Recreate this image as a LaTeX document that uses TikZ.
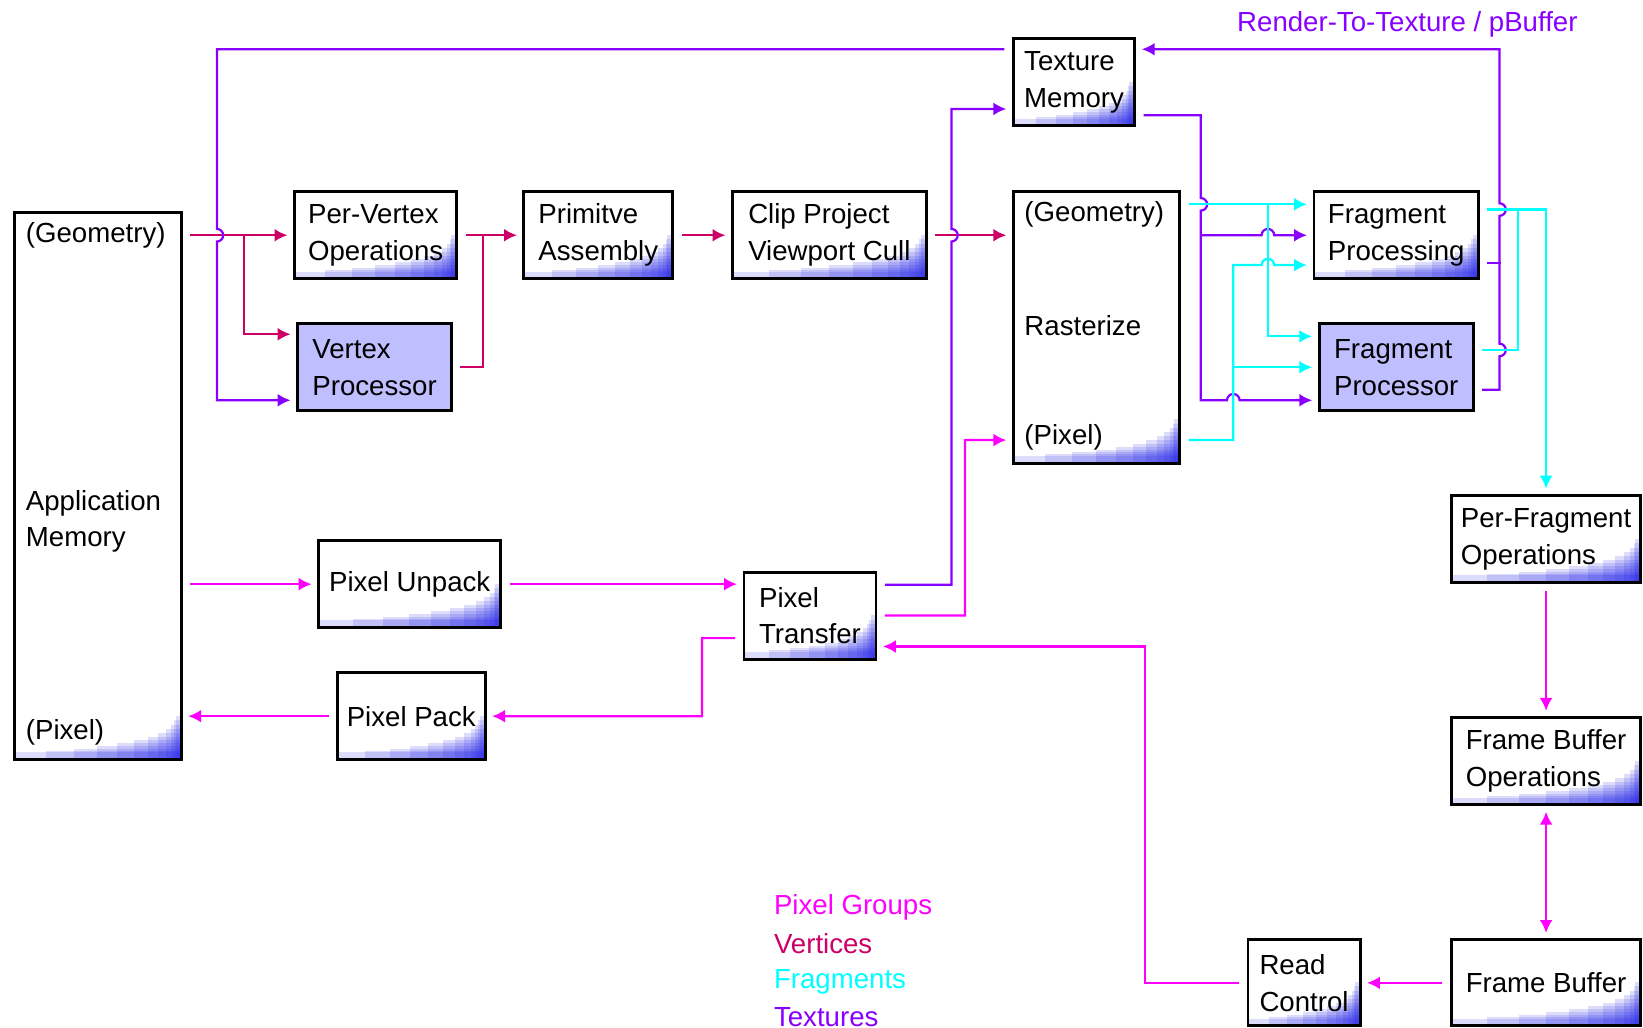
\documentclass[tikz,border=0pt]{standalone}
\usepackage{fontspec}
\setmainfont{Liberation Sans}
\usetikzlibrary{arrows.meta, calc}
\definecolor{pixmag}{RGB}{255,0,255}
\definecolor{vtxred}{RGB}{204,0,102}
\definecolor{fragcyan}{RGB}{0,255,255}
\definecolor{texviolet}{RGB}{136,0,255}
\definecolor{proclav}{RGB}{191,191,255}
\definecolor{glowblue}{RGB}{30,30,230}
\newcommand{\boxfont}{\fontsize{7.5}{10}\selectfont}

\begin{document}
\begin{tikzpicture}[
    plain/.style={draw, line width=0.8pt, minimum height=0.83cm, align=left, font=\boxfont, inner sep=0pt},
    box/.style={plain, path picture={
        \foreach \k in {1,...,12}
          \fill[glowblue, opacity=0.15]
            let \p1=($(path picture bounding box.east)-(path picture bounding box.west)$) in
            (path picture bounding box.south east) rectangle
            ++({-(0.05cm+(\x1-0.05cm)*(\k/12)*(\k/12)*sqrt(\k/12))},
              {0.06cm+0.36cm*((13-\k)/12)*sqrt((13-\k)/12)});}},
    proc/.style={plain, fill=proclav},
    lbl/.style={font=\boxfont, anchor=west, align=left, inner sep=0pt},
    link/.style={line width=0.6pt, shorten <=2pt, shorten >=1.5pt, -{Latex[length=3.5pt,width=3.5pt]}},
    bare/.style={line width=0.6pt, shorten <=2pt}
  ]
  \useasboundingbox (0,0) rectangle (15.68,9.81);

  % Boxes
  \node[box, minimum width=1.59cm, minimum height=5.22cm] (appmem) at (0.935,5.17) {};
  \node[box, minimum width=1.55cm] (pervertex) at (3.585,7.565) {Per-Vertex\\Operations};
  \node[proc, minimum width=1.47cm] (vertexproc) at (3.575,6.305) {Vertex\\Processor};
  \node[box, minimum width=1.42cm] (primasm) at (5.71,7.565) {Primitve\\Assembly};
  \node[box, minimum width=1.85cm] (clip) at (7.915,7.565) {Clip Project\\Viewport Cull};
  \node[box, minimum width=1.16cm] (texmem) at (10.25,9.025) {Texture\\Memory};
  \node[box, minimum width=1.59cm, minimum height=2.59cm] (raster) at (10.465,6.685) {};
  \node[box, minimum width=1.57cm] (fragproc) at (13.325,7.565) {Fragment\\Processing};
  \node[proc, minimum width=1.47cm] (fragshader) at (13.325,6.305) {Fragment\\Processor};
  \node[box, minimum width=1.81cm] (perfrag) at (14.755,4.665) {Per-Fragment\\Operations};
  \node[box, minimum width=1.81cm] (fbops) at (14.755,2.545) {Frame Buffer\\Operations};
  \node[box, minimum width=1.81cm, minimum height=0.82cm] (fb) at (14.755,0.43) {Frame Buffer};
  \node[box, minimum width=1.07cm, minimum height=0.82cm] (readctl) at (12.445,0.43) {Read\\Control};
  \node[box, minimum width=1.74cm] (unpack) at (3.91,4.235) {Pixel Unpack};
  \node[box, minimum width=1.41cm] (pack) at (3.925,2.975) {Pixel Pack};
  \node[box, minimum width=1.26cm] (transfer) at (7.73,3.935) {Pixel\\Transfer};

  % Texts inside the tall boxes
  \node[lbl] (appgeo) at (0.24,7.56) {(Geometry)};
  \node[lbl] (appname) at (0.24,4.835) {Application\\Memory};
  \node[lbl] (apppix) at (0.24,2.82) {(Pixel)};
  \node[lbl] (rastgeo) at (9.77,7.76) {(Geometry)};
  \node[lbl] (rastname) at (9.77,6.70) {Rasterize};
  \node[lbl] (rastpix) at (9.77,5.64) {(Pixel)};

  % Vertices
  \coordinate (vsplit) at (2.33,7.565);
  \coordinate (vjoin) at (4.61,7.565);
  \draw[link, vtxred] (appmem.east |- pervertex.west) -- (pervertex.west);
  \draw[link, vtxred, shorten <=0pt] (vsplit) |- ([yshift=3.15mm]vertexproc.west);
  \draw[link, vtxred] (pervertex.east) -- (primasm.west);
  \draw[bare, vtxred] (vertexproc.east) -| (vjoin);
  \draw[link, vtxred] (primasm.east) -- (clip.west);
  \draw[link, vtxred] (clip.east) -- (clip.east -| raster.west);

  % Textures
  \draw[link, texviolet] ([yshift=3.15mm]texmem.west) -| (2.07,7.625)
    arc[start angle=90, end angle=-90, radius=0.06] |- ([yshift=-3.15mm]vertexproc.west);
  \draw[link, texviolet] ([yshift=2.95mm]transfer.east) -| (9.08,7.505)
    arc[start angle=-90, end angle=90, radius=0.06] |- ([yshift=-2.55mm]texmem.west);
  \draw[link, texviolet] ([yshift=-3.15mm]texmem.east) -| (11.46,7.92)
    arc[start angle=90, end angle=-90, radius=0.06] |- (11.71,5.99)
    arc[start angle=180, end angle=0, radius=0.06] -- ([yshift=-3.15mm]fragshader.west);
  \draw[link, texviolet, shorten <=0pt] (11.46,7.565) -- (12.04,7.565)
    arc[start angle=180, end angle=0, radius=0.06] -- (fragproc.west);
  \draw[link, texviolet] ([yshift=-2.15mm]fragshader.east) -| (14.31,6.41)
    arc[start angle=-90, end angle=90, radius=0.06] -- (14.31,7.75)
    arc[start angle=-90, end angle=90, radius=0.06] |- ([yshift=3.15mm]texmem.east);
  \draw[bare, texviolet] ([yshift=-2.65mm]fragproc.east) -- ++(0.2,0);

  % Fragments
  \draw[link, fragcyan] ([yshift=2.95mm]fragproc.west -| raster.east) -- ([yshift=2.95mm]fragproc.west);
  \draw[link, fragcyan, shorten <=0pt] (12.10,7.86) |- ([yshift=2.95mm]fragshader.west);
  \draw[link, fragcyan] ([yshift=-10.75mm]raster.east) -| (11.77,7.28) -- (12.04,7.28)
    arc[start angle=180, end angle=0, radius=0.06] -- ([yshift=-2.85mm]fragproc.west);
  \draw[link, fragcyan, shorten <=0pt] (11.77,6.305) -- (fragshader.west);
  \draw[link, fragcyan] ([yshift=2.45mm]fragproc.east) -| (perfrag.north);
  \draw[bare, fragcyan] ([yshift=1.65mm]fragshader.east) -| (14.49,7.81);

  % Pixel groups
  \draw[link, pixmag] (appmem.east |- unpack.west) -- (unpack.west);
  \draw[link, pixmag] (unpack.east) -- (unpack.east -| transfer.west);
  \draw[link, pixmag] (transfer.east) -| (9.21,5.61) -- ([yshift=-10.75mm]raster.west);
  \draw[link, pixmag] ([yshift=-2.15mm]transfer.west) -- (6.70,3.72) |- (pack.east);
  \draw[link, pixmag] (pack.west) -- (pack.west -| appmem.east);
  \draw[link, pixmag] (perfrag.south) -- (fbops.north);
  \draw[link, pixmag, {Latex[length=3.5pt,width=3.5pt]}-{Latex[length=3.5pt,width=3.5pt]}, shorten <=1.5pt] (fbops.south) -- (fb.north);
  \draw[link, pixmag] (fb.west) -- (readctl.east);
  \draw[link, pixmag] (readctl.west) -- (10.93,0.43) |- ([yshift=-2.95mm]transfer.east);

  % Legend and title
  \node[lbl, pixmag] (lgpix) at (7.38,1.15) {Pixel Groups};
  \node[lbl, vtxred] (lgvtx) at (7.38,0.80) {Vertices};
  \node[lbl, fragcyan] (lgfrag) at (7.38,0.44) {Fragments};
  \node[lbl, texviolet] (lgtex) at (7.38,0.10) {Textures};
  \node[lbl, texviolet] (rtt) at (11.80,9.58) {Render-To-Texture / pBuffer};
\end{tikzpicture}
\end{document}
